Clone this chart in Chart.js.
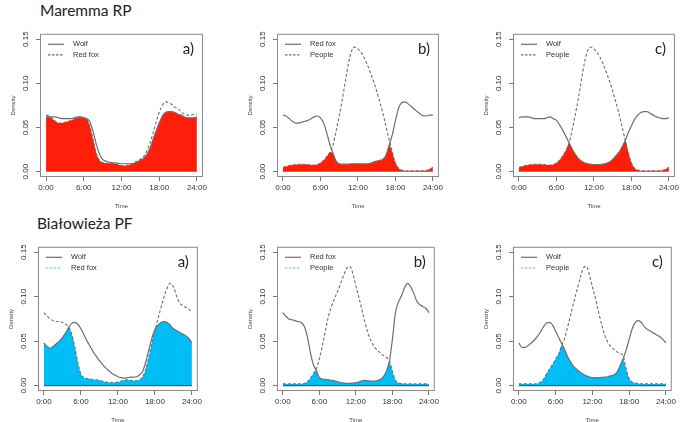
<!DOCTYPE html>
<html>
<head>
<meta charset="utf-8">
<script src="https://cdn.jsdelivr.net/npm/chart.js@4.4.1/dist/chart.umd.min.js"></script>
<style>
  html, body { margin: 0; padding: 0; background: #fff; }
  body { width: 685px; height: 422px; position: relative; overflow: hidden; }
  canvas { position: absolute; }
  .site { position: absolute; font-family: Lato, "Open Sans", sans-serif; font-size: 15.5px; color: #222; white-space: nowrap; }
</style>
</head>
<body>
<div class="site" style="left:40px;top:1px">Maremma RP</div>
<div class="site" style="left:37px;top:214px">Białowieża PF</div>
<canvas id="ta"></canvas>
<canvas id="tb"></canvas>
<canvas id="tc"></canvas>
<canvas id="ba"></canvas>
<canvas id="bb"></canvas>
<canvas id="bc"></canvas>
<script>
// time of day, every half hour
const HOURS = [0, 0.5, 1, 1.5, 2, 2.5, 3, 3.5, 4, 4.5, 5, 5.5, 6, 6.5, 7, 7.5, 8, 8.5, 9, 9.5,
  10, 10.5, 11, 11.5, 12, 12.5, 13, 13.5, 14, 14.5, 15, 15.5, 16, 16.5, 17, 17.5, 18, 18.5, 19, 19.5,
  20, 20.5, 21, 21.5, 22, 22.5, 23, 23.5, 24];
const X_TICKS = [0, 6, 12, 18, 24];
const Y_TICKS = [0, 0.05, 0.10, 0.15];

// Maremma RP
const TOP_A_WOLF = [0.062, 0.062, 0.062, 0.062, 0.061, 0.060, 0.060, 0.060, 0.060, 0.061, 0.062, 0.062, 0.061, 0.060, 0.056, 0.045, 0.031, 0.020, 0.014, 0.012,
  0.011, 0.010, 0.010, 0.0095, 0.009, 0.009, 0.0088, 0.009, 0.0095, 0.011, 0.013, 0.015, 0.019, 0.026, 0.036, 0.046, 0.055, 0.063, 0.067, 0.068,
  0.068, 0.067, 0.065, 0.064, 0.062, 0.061, 0.061, 0.061, 0.062];
const TOP_A_FOX = [0.064, 0.063, 0.060, 0.057, 0.055, 0.055, 0.056, 0.057, 0.058, 0.060, 0.061, 0.062, 0.061, 0.059, 0.051, 0.036, 0.021, 0.013, 0.0105, 0.0098,
  0.0095, 0.0095, 0.009, 0.008, 0.007, 0.0068, 0.007, 0.008, 0.010, 0.012, 0.014, 0.017, 0.023, 0.032, 0.043, 0.056, 0.067, 0.075, 0.079, 0.078,
  0.076, 0.073, 0.071, 0.068, 0.065, 0.064, 0.064, 0.065, 0.064];
const TOP_B_FOX = [0.064, 0.063, 0.060, 0.057, 0.055, 0.055, 0.056, 0.057, 0.058, 0.060, 0.062, 0.063, 0.061, 0.055, 0.044, 0.031, 0.021, 0.012, 0.009, 0.0085,
  0.0085, 0.0085, 0.009, 0.009, 0.009, 0.0088, 0.0088, 0.009, 0.0095, 0.011, 0.012, 0.013, 0.014, 0.019, 0.030, 0.042, 0.058, 0.072, 0.078, 0.079,
  0.077, 0.074, 0.071, 0.068, 0.065, 0.063, 0.063, 0.064, 0.064];
const TOP_B_PEOPLE = [0.005, 0.006, 0.007, 0.0075, 0.008, 0.0085, 0.0085, 0.0085, 0.008, 0.0075, 0.0075, 0.008, 0.010, 0.013, 0.017, 0.022, 0.030, 0.046, 0.063, 0.082,
  0.103, 0.123, 0.137, 0.141, 0.139, 0.135, 0.129, 0.121, 0.112, 0.102, 0.091, 0.079, 0.066, 0.051, 0.036, 0.022, 0.010, 0.004, 0.002, 0.0012,
  0.001, 0.001, 0.001, 0.001, 0.001, 0.0012, 0.0015, 0.003, 0.005];
const TOP_C_WOLF = [0.061, 0.062, 0.062, 0.062, 0.061, 0.060, 0.060, 0.060, 0.060, 0.061, 0.062, 0.060, 0.058, 0.053, 0.047, 0.040, 0.033, 0.026, 0.020, 0.015,
  0.012, 0.010, 0.009, 0.0085, 0.008, 0.008, 0.008, 0.0085, 0.0095, 0.011, 0.014, 0.018, 0.022, 0.028, 0.035, 0.044, 0.052, 0.059, 0.064, 0.067,
  0.068, 0.068, 0.066, 0.064, 0.062, 0.061, 0.060, 0.060, 0.061];
const TOP_C_PEOPLE = [0.005, 0.006, 0.007, 0.0075, 0.008, 0.0085, 0.0085, 0.0085, 0.008, 0.0075, 0.0075, 0.008, 0.010, 0.013, 0.018, 0.024, 0.032, 0.047, 0.064, 0.083,
  0.104, 0.124, 0.137, 0.141, 0.139, 0.135, 0.129, 0.121, 0.112, 0.102, 0.091, 0.079, 0.066, 0.051, 0.036, 0.022, 0.010, 0.004, 0.002, 0.0012,
  0.001, 0.001, 0.001, 0.001, 0.001, 0.0012, 0.0015, 0.003, 0.005];

// Białowieża PF
const BOT_A_WOLF = [0.048, 0.044, 0.042, 0.044, 0.047, 0.050, 0.054, 0.059, 0.065, 0.070, 0.071, 0.069, 0.064, 0.057, 0.050, 0.044, 0.038, 0.033, 0.028, 0.024,
  0.020, 0.017, 0.014, 0.012, 0.010, 0.009, 0.0085, 0.009, 0.0095, 0.0096, 0.010, 0.012, 0.016, 0.026, 0.040, 0.053, 0.063, 0.068, 0.071, 0.072,
  0.071, 0.068, 0.064, 0.062, 0.060, 0.058, 0.056, 0.053, 0.048];
const BOT_A_FOX = [0.082, 0.078, 0.075, 0.073, 0.072, 0.072, 0.071, 0.069, 0.066, 0.058, 0.044, 0.026, 0.013, 0.009, 0.008, 0.0075, 0.007, 0.0065, 0.006, 0.005,
  0.004, 0.0035, 0.0035, 0.0035, 0.004, 0.005, 0.006, 0.0065, 0.006, 0.0055, 0.0055, 0.0065, 0.010, 0.018, 0.032, 0.048, 0.062, 0.075, 0.088, 0.100,
  0.110, 0.115, 0.111, 0.101, 0.093, 0.090, 0.088, 0.086, 0.082];
const BOT_B_FOX = [0.082, 0.078, 0.075, 0.074, 0.073, 0.072, 0.071, 0.067, 0.056, 0.038, 0.024, 0.017, 0.009, 0.0075, 0.007, 0.0065, 0.006, 0.0055, 0.0045, 0.0035,
  0.003, 0.0025, 0.0025, 0.003, 0.0032, 0.0042, 0.0055, 0.006, 0.0055, 0.005, 0.005, 0.0058, 0.007, 0.010, 0.016, 0.027, 0.052, 0.082, 0.094, 0.101,
  0.110, 0.115, 0.111, 0.104, 0.095, 0.091, 0.089, 0.087, 0.082];
const BOT_B_PEOPLE = [0.002, 0.002, 0.002, 0.002, 0.002, 0.002, 0.002, 0.0025, 0.004, 0.008, 0.013, 0.019, 0.030, 0.045, 0.062, 0.078, 0.089, 0.098, 0.106, 0.115,
  0.124, 0.132, 0.134, 0.126, 0.112, 0.099, 0.085, 0.071, 0.059, 0.050, 0.044, 0.040, 0.037, 0.034, 0.032, 0.028, 0.016, 0.006, 0.003, 0.0025,
  0.002, 0.002, 0.002, 0.002, 0.002, 0.002, 0.002, 0.002, 0.002];
const BOT_C_WOLF = [0.048, 0.043, 0.043, 0.045, 0.048, 0.051, 0.055, 0.060, 0.066, 0.070, 0.071, 0.068, 0.061, 0.054, 0.047, 0.040, 0.032, 0.026, 0.021, 0.018,
  0.015, 0.013, 0.011, 0.0097, 0.009, 0.0088, 0.009, 0.0092, 0.0095, 0.010, 0.011, 0.012, 0.015, 0.022, 0.030, 0.040, 0.052, 0.064, 0.071, 0.073,
  0.071, 0.066, 0.063, 0.061, 0.059, 0.057, 0.055, 0.052, 0.048];
const BOT_C_PEOPLE = [0.002, 0.002, 0.002, 0.002, 0.002, 0.002, 0.0022, 0.004, 0.007, 0.013, 0.019, 0.024, 0.030, 0.036, 0.045, 0.054, 0.067, 0.081, 0.095, 0.108,
  0.121, 0.132, 0.134, 0.125, 0.111, 0.098, 0.083, 0.069, 0.057, 0.049, 0.044, 0.041, 0.038, 0.036, 0.034, 0.019, 0.008, 0.004, 0.003, 0.0025,
  0.002, 0.002, 0.002, 0.002, 0.002, 0.002, 0.002, 0.002, 0.002];

const RED = "#ff1e0a";
const CYAN = "#00bdf6";
const LINE = "#6e6e6e";

// frame box [left, top, right, bottom] of each plot on the page
const panels = [
  { id: "ta", box: [40, 29, 207, 177], tag: "a)", s1: ["Wolf", TOP_A_WOLF], s2: ["Red fox", TOP_A_FOX], fill: RED, key2: LINE },
  { id: "tb", box: [277, 29, 443, 177], tag: "b)", s1: ["Red fox", TOP_B_FOX], s2: ["People", TOP_B_PEOPLE], fill: RED, key2: LINE },
  { id: "tc", box: [513, 29, 679, 177], tag: "c)", s1: ["Wolf", TOP_C_WOLF], s2: ["People", TOP_C_PEOPLE], fill: RED, key2: LINE },
  { id: "ba", box: [38, 242, 202, 391], tag: "a)", s1: ["Wolf", BOT_A_WOLF], s2: ["Red fox", BOT_A_FOX], fill: CYAN, key2: "#8cc9e6", base: "#13708f" },
  { id: "bb", box: [277, 242, 439, 391], tag: "b)", s1: ["Red fox", BOT_B_FOX], s2: ["People", BOT_B_PEOPLE], fill: CYAN, key2: "#8cc9e6", base: "#13708f" },
  { id: "bc", box: [513, 242, 676, 391], tag: "c)", s1: ["Wolf", BOT_C_WOLF], s2: ["People", BOT_C_PEOPLE], fill: CYAN, key2: "#8cc9e6", base: "#13708f" }
];

const Y_AXIS_W = 30;
const X_AXIS_H = 33;

function pts(arr) {
  return HOURS.map((h, i) => ({ x: h, y: arr[i] }));
}

const framePlugin = {
  id: "frame",
  afterDraw(chart, args, o) {
    const { ctx, chartArea: a, scales } = chart;
    ctx.save();
    if (o.base) {
      ctx.strokeStyle = o.base;
      ctx.lineWidth = 1.2;
      const y0 = scales.y.getPixelForValue(0);
      ctx.beginPath();
      ctx.moveTo(scales.x.getPixelForValue(0), y0);
      ctx.lineTo(scales.x.getPixelForValue(24), y0);
      ctx.stroke();
    }
    ctx.strokeStyle = "#8a8a8a";
    ctx.lineWidth = 1;
    ctx.strokeRect(a.left + 0.5, a.top + 0.5, a.right - a.left - 1, a.bottom - a.top - 1);

    // legend, top left inside the box
    ctx.font = '7.5px "Liberation Sans", Arial, sans-serif';
    ctx.textBaseline = "middle";
    ctx.fillStyle = "#333";
    o.keys.forEach((k, i) => {
      const y = a.top + 10.5 + i * 10.5;
      ctx.strokeStyle = k.color;
      ctx.lineWidth = 1.2;
      ctx.setLineDash(k.dash);
      ctx.beginPath();
      ctx.moveTo(a.left + 8, y);
      ctx.lineTo(a.left + 24, y);
      ctx.stroke();
      ctx.setLineDash([]);
      ctx.fillText(k.label, a.left + 33, y);
    });

    // panel letter, top right
    ctx.font = '15px Lato, "Open Sans", sans-serif';
    ctx.textAlign = "right";
    ctx.fillStyle = "#222";
    ctx.fillText(o.tag, a.right - 9, a.top + 15);
    ctx.restore();
  }
};

panels.forEach(p => {
  const [l, t, r, b] = p.box;
  const cv = document.getElementById(p.id);
  cv.width = r - l + Y_AXIS_W + 2;
  cv.height = b - t + X_AXIS_H + 2;
  cv.style.left = (l - Y_AXIS_W) + "px";
  cv.style.top = (t - 2) + "px";

  const overlap = p.s1[1].map((v, i) => Math.min(v, p.s2[1][i]));

  new Chart(cv, {
    type: "line",
    data: {
      datasets: [
        {
          label: p.s1[0],
          data: pts(p.s1[1]),
          borderColor: LINE,
          borderWidth: 1.2,
          pointRadius: 0,
          fill: false,
          cubicInterpolationMode: "monotone"
        },
        {
          label: p.s2[0],
          data: pts(p.s2[1]),
          borderColor: LINE,
          borderWidth: 1.1,
          borderDash: [3, 2],
          pointRadius: 0,
          fill: false,
          cubicInterpolationMode: "monotone"
        },
        {
          label: "overlap",
          data: pts(overlap),
          borderWidth: 0,
          borderColor: "transparent",
          backgroundColor: p.fill,
          pointRadius: 0,
          fill: "origin",
          cubicInterpolationMode: "monotone"
        }
      ]
    },
    options: {
      responsive: false,
      animation: false,
      devicePixelRatio: 1,
      layout: { padding: { top: 2, right: 2, left: 0, bottom: 0 } },
      scales: {
        x: {
          type: "linear",
          min: -0.96,
          max: 24.96,
          afterBuildTicks: s => { s.ticks = X_TICKS.map(v => ({ value: v })); },
          afterFit: s => { s.height = X_AXIS_H; },
          ticks: {
            autoSkip: false,
            maxRotation: 0,
            padding: 2,
            color: "#333",
            font: { family: '"Liberation Sans", Arial, sans-serif', size: 8 },
            callback: v => v + ":00"
          },
          grid: { drawOnChartArea: false, drawTicks: true, tickLength: 4, color: "#777" },
          border: { display: false },
          title: {
            display: true,
            text: "Time",
            color: "#444",
            padding: 0,
            font: { family: '"Liberation Sans", Arial, sans-serif', size: 6 }
          }
        },
        y: {
          min: -0.006,
          max: 0.156,
          afterBuildTicks: s => { s.ticks = Y_TICKS.map(v => ({ value: v })); },
          afterFit: s => { s.width = Y_AXIS_W; },
          ticks: {
            minRotation: 90,
            maxRotation: 90,
            crossAlign: "center",
            padding: 2,
            color: "#333",
            font: { family: '"Liberation Sans", Arial, sans-serif', size: 8 },
            callback: v => v.toFixed(2)
          },
          grid: { drawOnChartArea: false, drawTicks: true, tickLength: 4, color: "#777" },
          border: { display: false },
          title: {
            display: true,
            text: "Density",
            color: "#444",
            padding: 0,
            font: { family: '"Liberation Sans", Arial, sans-serif', size: 6 }
          }
        }
      },
      plugins: {
        legend: { display: false },
        tooltip: { enabled: false },
        frame: {
          tag: p.tag,
          base: p.base,
          keys: [
            { label: p.s1[0], color: LINE, dash: [] },
            { label: p.s2[0], color: p.key2, dash: [2.5, 1.5] }
          ]
        }
      }
    },
    plugins: [framePlugin]
  });
});
</script>
</body>
</html>
